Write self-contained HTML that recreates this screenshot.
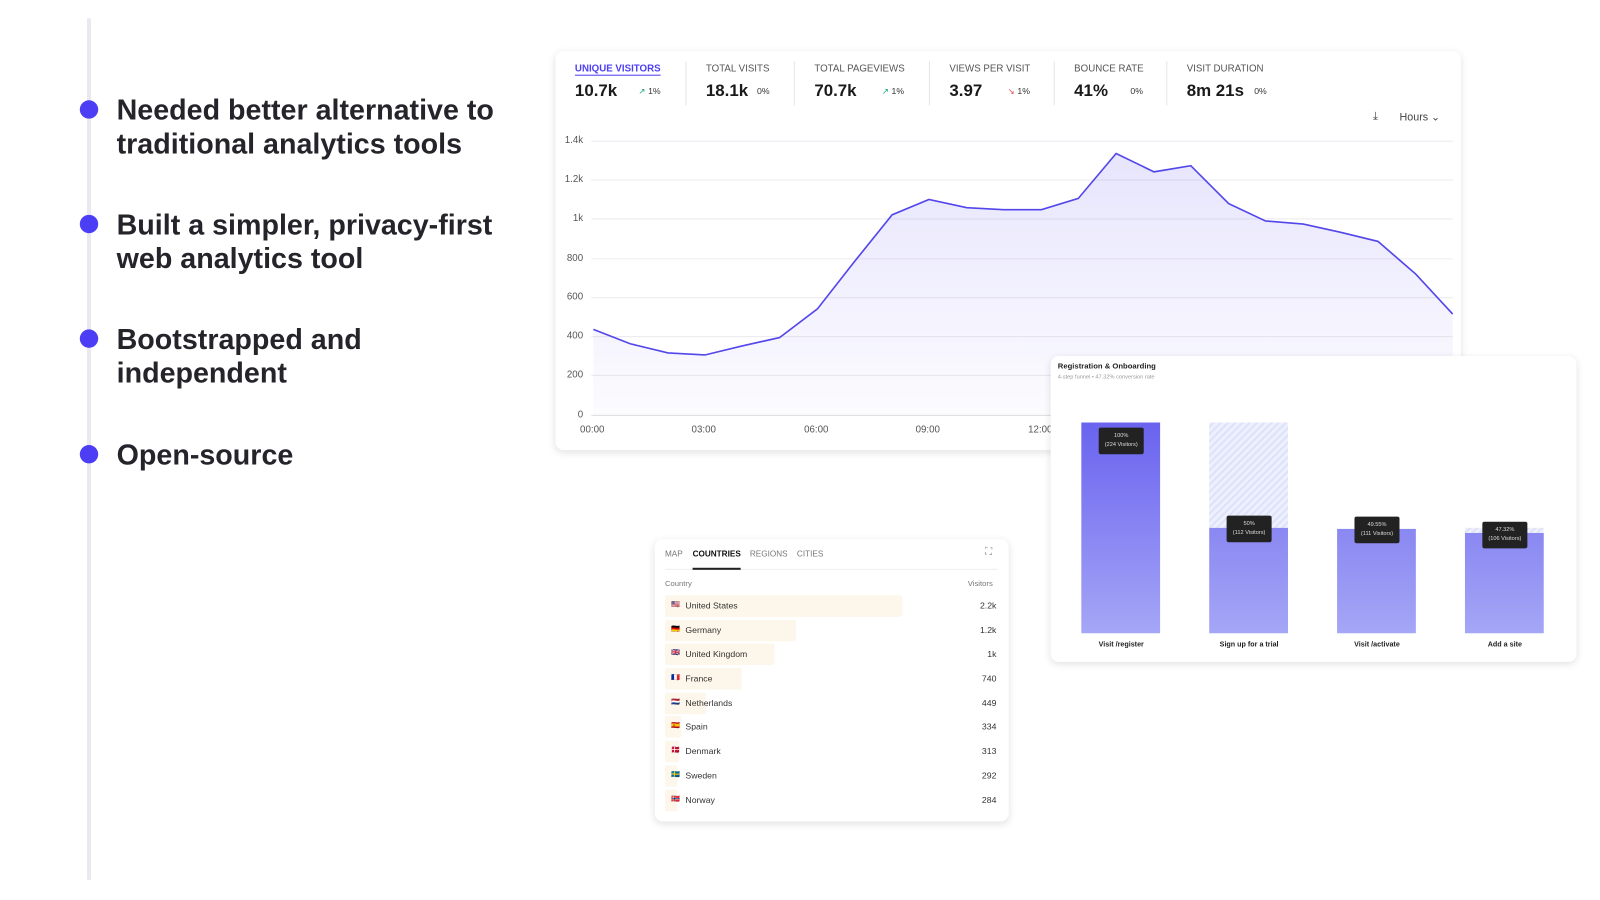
<!DOCTYPE html>
<html><head><meta charset="utf-8"><style>
*{margin:0;padding:0;box-sizing:border-box}
body{width:1600px;height:900px;overflow:hidden;background:#fff;font-family:"Liberation Sans",sans-serif;color:#222}
#w{position:absolute;left:0;top:0;width:1564px;height:880px;transform:scale(1.02302);transform-origin:0 0}
.a{position:absolute;white-space:nowrap}
.b{font-weight:bold;font-size:28px;line-height:33px;color:#24242a;left:114px}
.dot{position:absolute;left:78px;width:18px;height:18px;border-radius:50%;background:#4c3ef5}
.card{position:absolute;background:#fff;border-radius:8px;box-shadow:0 2px 8px rgba(0,0,0,.12)}
.sl{font-size:9.5px;color:#555;top:62px}
.sv{font-size:16.5px;font-weight:bold;color:#1a1a1a;top:80px}
.sc{font-size:8.5px;color:#333;top:84px}
.sep{position:absolute;top:60px;width:1px;height:43px;background:#e5e5e5}
.yt{font-size:9.5px;color:#555;text-align:right;width:40px;left:530px}
.xt{font-size:9.5px;color:#555;top:415px}
.tab{font-size:8px;color:#777;top:537px}
.row{position:absolute;left:650px;height:21px;background:#fdf6ea;border-radius:2px}
.rl{font-size:8.5px;color:#333;left:670px}
.rv{font-size:8.5px;color:#333;right:590px;text-align:right}
.fl{font-size:7px;color:#333;left:656px}
.tt{position:absolute;background:#222;color:#ddd;font-size:5.5px;text-align:center;line-height:9px;border-radius:2px;padding:4px 0;width:44px}
.fx{font-size:7px;font-weight:bold;color:#222;width:78px;text-align:center;top:627px}
</style></head><body><div id="w">
<div style="position:absolute;left:85px;top:18px;width:4px;height:842px;background:#e9e9ef"></div>
<div class="dot" style="top:98px"></div><div class="a b" style="top:91px">Needed better alternative to<br>traditional analytics tools</div>
<div class="dot" style="top:210px"></div><div class="a b" style="top:203px">Built a simpler, privacy-first<br>web analytics tool</div>
<div class="dot" style="top:322px"></div><div class="a b" style="top:315px">Bootstrapped and<br>independent</div>
<div class="dot" style="top:435px"></div><div class="a b" style="top:428px">Open-source</div>

<div class="card" style="left:543px;top:50px;width:885px;height:390px"></div>
<div class="a sl" style="left:562px;color:#4c3ef5;font-weight:bold;text-decoration:underline;text-underline-offset:3px">UNIQUE VISITORS</div>
<div class="a sv" style="left:562px">10.7k</div><div class="a sc" style="left:624px"><span style="color:#1aa873">↗</span> 1%</div>
<div class="sep" style="left:670px"></div>
<div class="a sl" style="left:690px">TOTAL VISITS</div><div class="a sv" style="left:690px">18.1k</div><div class="a sc" style="left:740px">0%</div>
<div class="sep" style="left:776px"></div>
<div class="a sl" style="left:796px">TOTAL PAGEVIEWS</div><div class="a sv" style="left:796px">70.7k</div><div class="a sc" style="left:862px"><span style="color:#1aa873">↗</span> 1%</div>
<div class="sep" style="left:908px"></div>
<div class="a sl" style="left:928px">VIEWS PER VISIT</div><div class="a sv" style="left:928px">3.97</div><div class="a sc" style="left:985px"><span style="color:#e5484d">↘</span> 1%</div>
<div class="sep" style="left:1030px"></div>
<div class="a sl" style="left:1050px">BOUNCE RATE</div><div class="a sv" style="left:1050px">41%</div><div class="a sc" style="left:1105px">0%</div>
<div class="sep" style="left:1140px"></div>
<div class="a sl" style="left:1160px">VISIT DURATION</div><div class="a sv" style="left:1160px">8m 21s</div><div class="a sc" style="left:1226px">0%</div>
<div class="a" style="left:1342px;top:108px;font-size:11px;color:#444">⤓</div>
<div class="a" style="left:1368px;top:109px;font-size:10.5px;color:#444">Hours ⌄</div>
<svg class="a" style="left:0;top:0" width="1564" height="880">
<defs><linearGradient id="g" x1="0" y1="0" x2="0" y2="1"><stop offset="0" stop-color="#6a5cf0" stop-opacity=".16"/><stop offset="1" stop-color="#6a5cf0" stop-opacity=".02"/></linearGradient></defs>
<g stroke="#ececf0" stroke-width="1">
<line x1="578" x2="1420" y1="138" y2="138"/><line x1="578" x2="1420" y1="176" y2="176"/><line x1="578" x2="1420" y1="214" y2="214"/><line x1="578" x2="1420" y1="253" y2="253"/><line x1="578" x2="1420" y1="291" y2="291"/><line x1="578" x2="1420" y1="329" y2="329"/><line x1="578" x2="1420" y1="367" y2="367"/><line x1="578" x2="1420" y1="406" y2="406" stroke="#ddd"/></g>
<path d="M580,322 616,336 653,345 689,347 726,338 762,330 799,302 835,256 872,210 908,195 945,203 981,205 1018,205 1054,194 1091,150 1128,168 1164,162 1201,199 1237,216 1274,219 1310,227 1347,236 1384,268 1420,307 L1420,406 580,406Z" fill="url(#g)"/>
<polyline points="580,322 616,336 653,345 689,347 726,338 762,330 799,302 835,256 872,210 908,195 945,203 981,205 1018,205 1054,194 1091,150 1128,168 1164,162 1201,199 1237,216 1274,219 1310,227 1347,236 1384,268 1420,307" fill="none" stroke="#5346ea" stroke-width="1.6"/>
</svg>
<div class="a yt" style="top:132px">1.4k</div><div class="a yt" style="top:170px">1.2k</div><div class="a yt" style="top:208px">1k</div><div class="a yt" style="top:247px">800</div><div class="a yt" style="top:285px">600</div><div class="a yt" style="top:323px">400</div><div class="a yt" style="top:361px">200</div><div class="a yt" style="top:400px">0</div>
<div class="a xt" style="left:567px">00:00</div><div class="a xt" style="left:676px">03:00</div><div class="a xt" style="left:786px">06:00</div><div class="a xt" style="left:895px">09:00</div><div class="a xt" style="left:1005px">12:00</div>

<div class="card" style="left:1027px;top:348px;width:514px;height:299px"></div>
<div class="a" style="left:1034px;top:353px;font-size:7.5px;font-weight:bold;color:#222">Registration &amp; Onboarding</div>
<div class="a" style="left:1034px;top:366px;font-size:5.5px;color:#999">4-step funnel • 47.32% conversion rate</div>
<svg class="a" style="left:0;top:0" width="1564" height="880">
<defs><linearGradient id="f1" x1="0" y1="0" x2="0" y2="1"><stop offset="0" stop-color="#6a63ef"/><stop offset="1" stop-color="#a5a6f6"/></linearGradient>
<linearGradient id="f2" x1="0" y1="0" x2="0" y2="1"><stop offset="0" stop-color="#8a88f2"/><stop offset="1" stop-color="#a5a6f6"/></linearGradient>
<pattern id="h" width="5" height="5" patternUnits="userSpaceOnUse" patternTransform="rotate(45)"><rect width="5" height="5" fill="#eef0fd"/><rect width="2" height="5" fill="#dde1fa"/></pattern></defs>
<rect x="1057" y="413" width="77" height="206" fill="url(#f1)"/>
<rect x="1182" y="413" width="77" height="103" fill="url(#h)"/><rect x="1182" y="516" width="77" height="103" fill="url(#f2)"/>
<rect x="1307" y="517" width="77" height="102" fill="url(#f2)"/>
<rect x="1432" y="516" width="77" height="5" fill="url(#h)"/><rect x="1432" y="521" width="77" height="98" fill="url(#f2)"/>
</svg>
<div class="tt" style="left:1074px;top:418px">100%<br>(224 Visitors)</div>
<div class="tt" style="left:1199px;top:504px">50%<br>(112 Visitors)</div>
<div class="tt" style="left:1324px;top:505px">49.55%<br>(111 Visitors)</div>
<div class="tt" style="left:1449px;top:510px">47.32%<br>(106 Visitors)</div>
<div class="a fx" style="left:1057px">Visit /register</div><div class="a fx" style="left:1182px">Sign up for a trial</div><div class="a fx" style="left:1307px">Visit /activate</div><div class="a fx" style="left:1432px">Add a site</div>

<div class="card" style="left:640px;top:527px;width:346px;height:276px"></div>
<div class="a tab" style="left:650px">MAP</div><div class="a tab" style="left:677px;color:#111;font-weight:bold">COUNTRIES</div><div class="a tab" style="left:733px">REGIONS</div><div class="a tab" style="left:779px">CITIES</div>
<div class="a" style="left:963px;top:534px;font-size:10px;color:#888">⛶</div>
<div class="a" style="left:650px;top:556px;width:325px;height:1px;background:#eee"></div>
<div class="a" style="left:677px;top:555px;width:47px;height:2px;background:#222"></div>
<div class="a" style="left:650px;top:566px;font-size:7.5px;color:#777">Country</div>
<div class="a" style="left:946px;top:566px;font-size:7.5px;color:#777">Visitors</div>
<div class="row" style="top:582px;width:232px"></div><div class="a fl" style="top:587px">🇺🇸</div><div class="a rl" style="top:587px">United States</div><div class="a rv" style="top:587px">2.2k</div>
<div class="row" style="top:606px;width:128px"></div><div class="a fl" style="top:611px">🇩🇪</div><div class="a rl" style="top:611px">Germany</div><div class="a rv" style="top:611px">1.2k</div>
<div class="row" style="top:629px;width:107px"></div><div class="a fl" style="top:634px">🇬🇧</div><div class="a rl" style="top:634px">United Kingdom</div><div class="a rv" style="top:634px">1k</div>
<div class="row" style="top:653px;width:75px"></div><div class="a fl" style="top:658px">🇫🇷</div><div class="a rl" style="top:658px">France</div><div class="a rv" style="top:658px">740</div>
<div class="row" style="top:677px;width:40px"></div><div class="a fl" style="top:682px">🇳🇱</div><div class="a rl" style="top:682px">Netherlands</div><div class="a rv" style="top:682px">449</div>
<div class="row" style="top:700px;width:16px"></div><div class="a fl" style="top:705px">🇪🇸</div><div class="a rl" style="top:705px">Spain</div><div class="a rv" style="top:705px">334</div>
<div class="row" style="top:724px;width:14px"></div><div class="a fl" style="top:729px">🇩🇰</div><div class="a rl" style="top:729px">Denmark</div><div class="a rv" style="top:729px">313</div>
<div class="row" style="top:748px;width:12px"></div><div class="a fl" style="top:753px">🇸🇪</div><div class="a rl" style="top:753px">Sweden</div><div class="a rv" style="top:753px">292</div>
<div class="row" style="top:772px;width:12px"></div><div class="a fl" style="top:777px">🇳🇴</div><div class="a rl" style="top:777px">Norway</div><div class="a rv" style="top:777px">284</div>
</div></body></html>
